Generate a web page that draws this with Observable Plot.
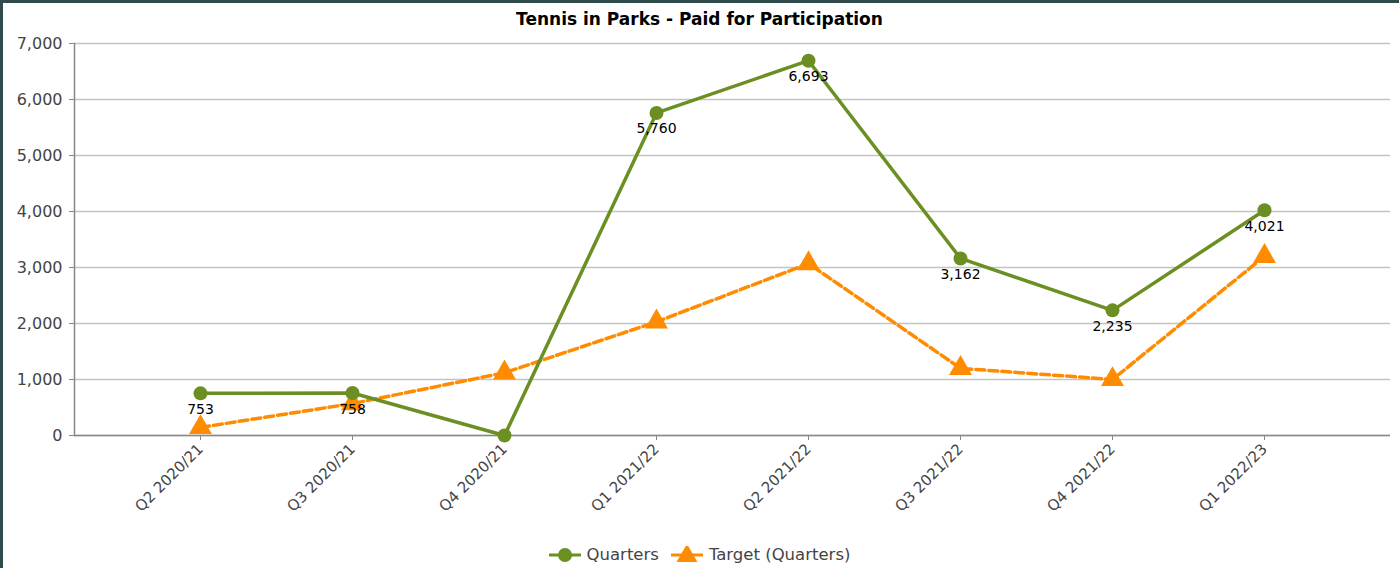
<!DOCTYPE html>
<html>
<head>
<meta charset="utf-8">
<script src="https://cdn.jsdelivr.net/npm/d3@7"></script>
<script src="https://cdn.jsdelivr.net/npm/@observablehq/plot@0.6"></script>
<style>
  html, body { margin: 0; padding: 0; background: #fff; }
  #wrap { position: relative; width: 1399px; height: 568px; overflow: hidden; font-family: "DejaVu Sans", Verdana, sans-serif; }
  #borderTop { position: absolute; left: 0; top: 0; width: 1399px; height: 3px; background: #2f4b4b; }
  #borderLeft { position: absolute; left: 0; top: 0; width: 3px; height: 568px; background: #2f4b4b; }
  #title { height: 30px; box-sizing: border-box; padding-top: 8px; line-height: 22px; text-align: center; font-weight: bold; font-size: 17px; color: #000; }
  #legend { height: 33px; box-sizing: border-box; padding-top: 6px; display: flex; justify-content: center; align-items: center; gap: 12px; font-size: 16.5px; color: #444; }
  .item { display: flex; align-items: center; gap: 6px; }
  svg { display: block; }
</style>
</head>
<body>
<div id="wrap">
  <div id="title"></div>
  <div id="chart"></div>
  <div id="legend"></div>
  <div id="borderTop"></div>
  <div id="borderLeft"></div>
</div>
<script>
const titleText = "Tennis in Parks - Paid for Participation";
const categories = ["Q2 2020/21", "Q3 2020/21", "Q4 2020/21", "Q1 2021/22", "Q2 2021/22", "Q3 2021/22", "Q4 2021/22", "Q1 2022/23"];
const quarters = [753, 758, 0, 5760, 6693, 3162, 2235, 4021];
const target = [145, 570, 1120, 2030, 3070, 1200, 1000, 3200];
const seriesNames = ["Quarters", "Target (Quarters)"];
const yTicks = [0, 1000, 2000, 3000, 4000, 5000, 6000, 7000];

const green = "#6b8f23";
const orange = "#ff8c00";

document.getElementById("title").textContent = titleText;

const qData = categories.map((c, i) => ({cat: c, value: quarters[i]}));
const tData = categories.map((c, i) => ({cat: c, value: target[i]}));

const chart = Plot.plot({
  width: 1399,
  height: 505,
  marginLeft: 74,
  marginRight: 9,
  marginTop: 13,
  marginBottom: 100,
  style: {fontFamily: "DejaVu Sans, Verdana, sans-serif", fontSize: "16px", color: "#444", background: "#fff"},
  x: {type: "point", domain: categories, padding: 0.81},
  y: {domain: [0, 7000]},
  marks: [
    Plot.gridY(yTicks, {stroke: "#c4c4c4", strokeOpacity: 1, strokeWidth: 1.5}),
    Plot.frame({anchor: "left", stroke: "#888", strokeWidth: 1.5}),
    Plot.ruleY([0], {stroke: "#888", strokeWidth: 1.5}),
    Plot.axisY(yTicks, {tickFormat: d3.format(","), tickSize: 5, tickPadding: 7, stroke: "#888", fill: "#444", label: null, fontSize: 16}),
    Plot.axisX({tickSize: 5, tickRotate: -45, tickPadding: 6, stroke: "#888", fill: "#444", label: null, fontSize: 15}),
    Plot.line(tData, {x: "cat", y: "value", stroke: orange, strokeWidth: 3.5, strokeDasharray: "9,4"}),
    Plot.dot(tData, {x: "cat", y: "value", symbol: "triangle", r: 8.5, fill: orange, stroke: null}),
    Plot.line(qData, {x: "cat", y: "value", stroke: green, strokeWidth: 3.5}),
    Plot.dot(qData, {x: "cat", y: "value", r: 7, fill: green, stroke: null}),
    Plot.text(qData.filter(d => d.value !== 0), {x: "cat", y: "value", text: d => d3.format(",")(d.value), dy: 16, fill: "#000", fontSize: 14})
  ]
});
document.getElementById("chart").appendChild(chart);

// Legend
const legend = document.getElementById("legend");
const legendDefs = [
  {name: seriesNames[0], color: green, shape: "circle"},
  {name: seriesNames[1], color: orange, shape: "triangle"}
];
for (const d of legendDefs) {
  const item = document.createElement("div");
  item.className = "item";
  const sw = d3.create("svg").attr("width", 32).attr("height", 18);
  sw.append("line").attr("x1", 0).attr("x2", 32).attr("y1", 9).attr("y2", 9)
    .attr("stroke", d.color).attr("stroke-width", 3);
  if (d.shape === "circle") {
    sw.append("circle").attr("cx", 16).attr("cy", 9).attr("r", 7).attr("fill", d.color);
  } else {
    sw.append("path").attr("d", d3.symbol(d3.symbolTriangle, 190)()).attr("transform", "translate(16,10)").attr("fill", d.color);
  }
  item.appendChild(sw.node());
  const span = document.createElement("span");
  span.textContent = d.name;
  item.appendChild(span);
  legend.appendChild(item);
}
</script>
</body>
</html>
